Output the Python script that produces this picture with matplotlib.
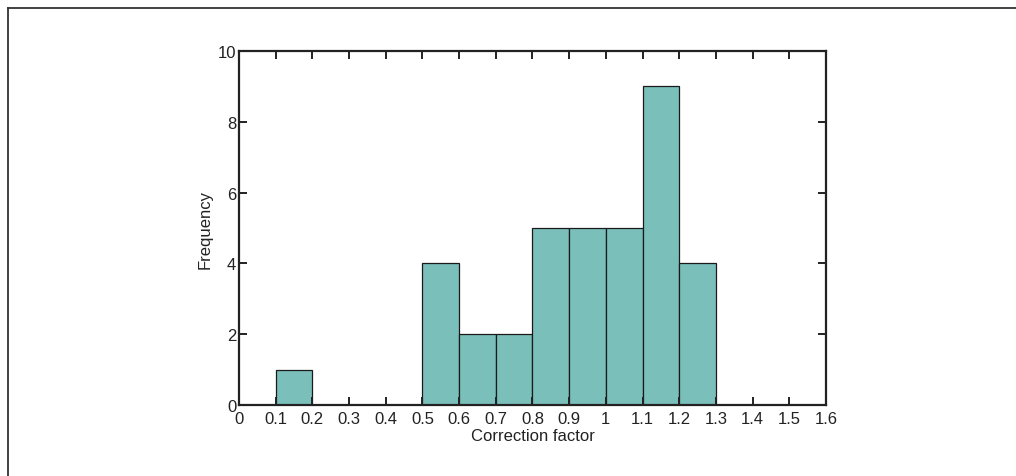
import matplotlib
matplotlib.use("Agg")
import matplotlib.pyplot as plt
from matplotlib.lines import Line2D

plt.rcParams['font.family'] = ['Liberation Sans', 'DejaVu Sans']

bin_left = [0.1, 0.5, 0.6, 0.7, 0.8, 0.9, 1.0, 1.1, 1.2]
counts = [1, 4, 2, 2, 5, 5, 5, 9, 4]
bin_width = 0.1
x_ticks = [0, 0.1, 0.2, 0.3, 0.4, 0.5, 0.6, 0.7, 0.8, 0.9, 1.0, 1.1, 1.2, 1.3, 1.4, 1.5, 1.6]
x_tick_labels = ['0', '0.1', '0.2', '0.3', '0.4', '0.5', '0.6', '0.7', '0.8', '0.9', '1', '1.1', '1.2', '1.3', '1.4', '1.5', '1.6']
y_ticks = [0, 2, 4, 6, 8, 10]

fig = plt.figure(figsize=(10.16, 4.77), dpi=100)
ax = fig.add_axes([0.2352, 0.1488, 0.5778, 0.742])

ax.bar(bin_left, counts, width=bin_width, align='edge', color='#7bbfba',
       edgecolor='#1a1a1a', linewidth=0.9)

ax.set_xlim(0, 1.6)
ax.set_ylim(0, 10)
ax.set_xticks(x_ticks)
ax.set_xticklabels(x_tick_labels)
ax.set_yticks(y_ticks)
ax.tick_params(direction='in', length=6, width=1.4, top=True, right=True,
               labelsize=12, colors='#222222', pad=2)
ax.tick_params(axis='x', pad=4)
for s in ax.spines.values():
    s.set_linewidth(1.6)
    s.set_color('#222222')

ax.set_xlabel('Correction factor', fontsize=12, color='#222222', labelpad=2)
ax.set_ylabel('Frequency', fontsize=12, color='#222222', labelpad=4)

fig.add_artist(Line2D([0.0079, 1.0], [0.981, 0.981], transform=fig.transFigure,
                      color='#333333', linewidth=1.3))
fig.add_artist(Line2D([0.0079, 0.0079], [0.0, 0.981], transform=fig.transFigure,
                      color='#333333', linewidth=1.3))

fig.savefig('out.png', dpi=100)
